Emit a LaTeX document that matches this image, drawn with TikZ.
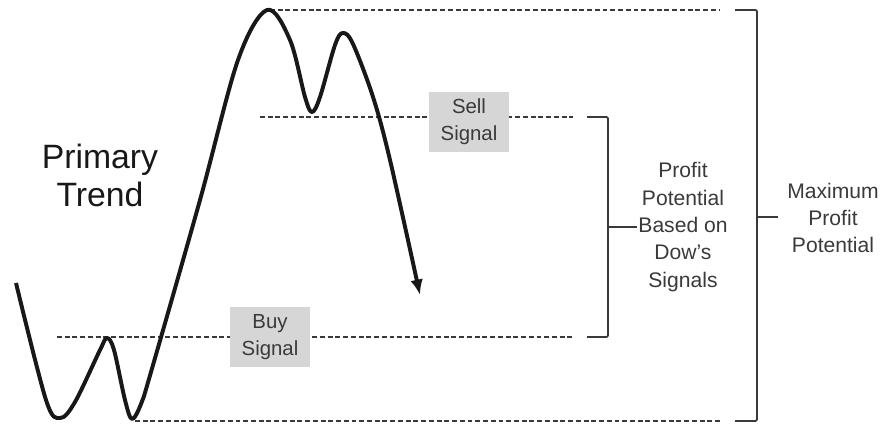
\documentclass[tikz,border=0pt]{standalone}
\usepackage{fontspec}
\setmainfont{Liberation Sans}
\usetikzlibrary{arrows.meta,positioning}
\definecolor{dowink}{RGB}{24,24,24}
\definecolor{dowgrey}{RGB}{58,58,58}
\definecolor{dowbox}{RGB}{214,214,214}

\begin{document}
\begin{tikzpicture}[x=0.025cm,y=-0.025cm,
  lvl/.style={draw=dowgrey,line width=1pt,dash pattern=on 3.5pt off 2pt},
  brk/.style={draw=dowgrey,line width=1.3pt,rounded corners=1pt},
  sig/.style={fill=dowbox,text=dowgrey,align=center,minimum width=57pt,minimum height=42pt,inner sep=1pt,font=\fontsize{14.5}{19}\selectfont},
  lbl/.style={text=dowgrey,align=center,inner sep=1pt,font=\fontsize{15}{19.5}\selectfont}]
\useasboundingbox (0,0) rectangle (886,429);
% price levels (dashed)
\coordinate (topL) at (270,10);  \coordinate (topR) at (720,10);
\coordinate (sellL) at (260,117); \coordinate (sellR) at (573,117);
\coordinate (buyL) at (57,337);   \coordinate (buyR) at (574,337);
\coordinate (botL) at (135,421);  \coordinate (botR) at (720,421);
\draw[lvl] (topL) -- (topR);
\draw[lvl] (sellL) -- (sellR);
\draw[lvl] (buyL) -- (buyR);
\draw[lvl] (botL) -- (botR);
% the market line
\draw[dowink,line width=2.8pt,line join=round,-{Latex[length=11pt,width=9pt]}]
  plot[smooth,tension=0.55] coordinates {(16,283) (46,400) (60,418) (75,402) (100,350)
  (107,338) (114,350) (125,400) (132,419) (141,404) (151,372) (200,200) (238,60)
  (267,10) (290,40) (305,97) (312,112) (320,97) (335,45) (343,33) (353,44) (373,97)
  (390,160) (420,295)};
% signals
\node[sig] (sell) at (469,122) {Sell\\Signal};
\node[sig] (buy) at (270,337) {Buy\\Signal};
\node[font=\fontsize{24}{27}\selectfont,text=dowink,align=center] (trend) at (100,175) {Primary\\Trend};
% brackets
\coordinate (inA) at (587,117); \coordinate (inB) at (608,117);
\coordinate (inC) at (608,337); \coordinate (inD) at (587,337);
\coordinate (inM) at (608,227);
\draw[brk] (inA) -- (inB) -- (inC) -- (inD);
\node[lbl] (dow) at (683,227) {Profit\\Potential\\Based on\\Dow's\\Signals};
\draw[brk] (inM) -- (dow.west);
\coordinate (outA) at (735,10); \coordinate (outB) at (757,10);
\coordinate (outC) at (757,421); \coordinate (outD) at (735,421);
\coordinate (outM) at (757,217); \coordinate (outT) at (778,217);
\draw[brk] (outA) -- (outB) -- (outC) -- (outD);
\draw[brk] (outM) -- (outT);
\node[lbl] (maxp) at (833,218) {Maximum\\Profit\\Potential};
\end{tikzpicture}
\end{document}
